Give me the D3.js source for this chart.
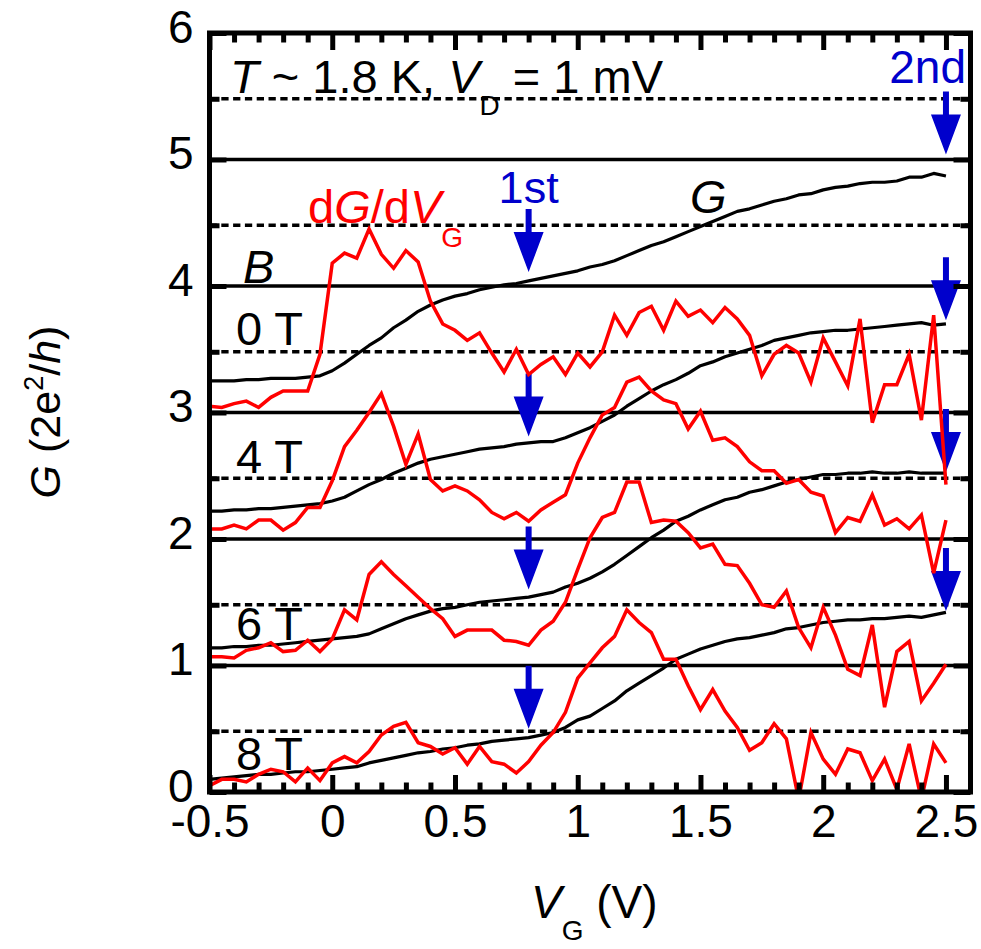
<!DOCTYPE html>
<html>
<head>
<meta charset="utf-8">
<script src="https://cdn.jsdelivr.net/npm/d3@7"></script>
<style>
  body { margin: 0; background: #fff; }
  svg text { font-family: "Liberation Sans", Arial, Helvetica, sans-serif; }
</style>
</head>
<body>
<div id="chart-area"></div>
<script>
// gate voltage grid (V)
const vg = [
  -0.5,-0.45,-0.4,-0.35,-0.3,-0.25,-0.2,-0.15,-0.1,-0.05,
  0,0.05,0.1,0.15,0.2,0.25,0.3,0.35,0.4,0.45,
  0.5,0.55,0.6,0.65,0.7,0.75,0.8,0.85,0.9,0.95,
  1,1.05,1.1,1.15,1.2,1.25,1.3,1.35,1.4,1.45,
  1.5,1.55,1.6,1.65,1.7,1.75,1.8,1.85,1.9,1.95,
  2,2.05,2.1,2.15,2.2,2.25,2.3,2.35,2.4,2.45,
  2.5]

// G (black), offset curves
const g0T = [
  3.25,3.25,3.25,3.26,3.26,3.27,3.27,3.27,3.28,3.29,
  3.33,3.39,3.46,3.53,3.59,3.67,3.73,3.80,3.85,3.89,
  3.92,3.94,3.97,3.99,4.01,4.02,4.04,4.06,4.08,4.10,
  4.12,4.15,4.17,4.20,4.24,4.28,4.32,4.35,4.39,4.43,
  4.47,4.51,4.55,4.59,4.61,4.64,4.67,4.69,4.72,4.73,
  4.76,4.78,4.79,4.81,4.82,4.82,4.83,4.86,4.86,4.89,
  4.87]
const g4T = [
  2.22,2.22,2.23,2.23,2.24,2.24,2.25,2.26,2.27,2.28,
  2.30,2.33,2.38,2.43,2.47,2.52,2.56,2.60,2.63,2.65,
  2.67,2.69,2.71,2.72,2.73,2.75,2.76,2.77,2.77,2.80,
  2.84,2.88,2.93,2.98,3.05,3.11,3.17,3.22,3.26,3.31,
  3.37,3.40,3.44,3.47,3.50,3.53,3.57,3.59,3.61,3.63,
  3.64,3.65,3.65,3.66,3.67,3.68,3.69,3.70,3.71,3.69,
  3.70]
const g6T = [
  1.14,1.14,1.15,1.15,1.16,1.16,1.17,1.18,1.19,1.20,
  1.21,1.22,1.23,1.25,1.29,1.33,1.37,1.40,1.43,1.45,
  1.46,1.48,1.50,1.51,1.52,1.53,1.54,1.56,1.58,1.62,
  1.65,1.69,1.74,1.80,1.87,1.94,2.01,2.07,2.14,2.18,
  2.23,2.27,2.31,2.33,2.37,2.39,2.42,2.45,2.47,2.49,
  2.51,2.51,2.52,2.52,2.53,2.52,2.52,2.53,2.52,2.52,
  2.52]
const g8T = [
  0.10,0.11,0.12,0.13,0.14,0.14,0.15,0.16,0.16,0.17,
  0.18,0.19,0.20,0.23,0.25,0.27,0.29,0.31,0.32,0.34,
  0.35,0.37,0.38,0.40,0.41,0.42,0.43,0.45,0.47,0.51,
  0.57,0.60,0.66,0.72,0.80,0.86,0.92,0.98,1.05,1.09,
  1.13,1.16,1.19,1.21,1.22,1.24,1.26,1.29,1.30,1.32,
  1.34,1.35,1.36,1.36,1.37,1.37,1.38,1.39,1.38,1.40,
  1.42]

// dG/dVG (red), offset curves
const dg0T = [
  3.05,3.04,3.07,3.09,3.04,3.12,3.17,3.17,3.17,3.46,
  4.18,4.26,4.22,4.45,4.25,4.14,4.28,4.19,3.88,3.70,
  3.65,3.57,3.63,3.47,3.32,3.50,3.30,3.38,3.44,3.30,
  3.47,3.36,3.48,3.77,3.61,3.79,3.84,3.65,3.88,3.76,
  3.81,3.71,3.83,3.74,3.61,3.29,3.46,3.53,3.47,3.24,
  3.59,3.40,3.21,3.74,2.92,3.22,3.22,3.46,2.94,3.77,
  2.43]
const dg4T = [
  2.08,2.08,2.11,2.08,2.15,2.15,2.07,2.13,2.25,2.25,
  2.46,2.73,2.86,3.00,3.15,2.89,2.59,2.83,2.47,2.38,
  2.42,2.38,2.31,2.21,2.16,2.21,2.14,2.23,2.29,2.35,
  2.60,2.80,2.98,3.04,3.24,3.28,3.17,3.10,3.07,2.87,
  3.01,2.78,2.80,2.73,2.61,2.54,2.54,2.44,2.47,2.37,
  2.34,2.05,2.17,2.14,2.35,2.11,2.16,2.08,2.19,1.73,
  2.15]
const dg6T = [
  1.07,1.07,1.06,1.12,1.14,1.18,1.11,1.12,1.20,1.11,
  1.21,1.44,1.36,1.72,1.82,1.72,1.63,1.54,1.45,1.37,
  1.23,1.28,1.28,1.28,1.20,1.19,1.16,1.28,1.35,1.50,
  1.76,2.01,2.17,2.21,2.45,2.45,2.13,2.15,2.14,2.05,
  1.93,1.96,1.80,1.79,1.65,1.48,1.46,1.59,1.30,1.14,
  1.46,1.24,0.97,0.92,1.32,0.67,1.11,1.19,0.72,0.86,
  1.01]
const dg8T = [
  0.05,0.10,0.10,0.08,0.14,0.18,0.16,0.08,0.19,0.09,
  0.23,0.28,0.23,0.32,0.45,0.52,0.55,0.39,0.36,0.30,
  0.35,0.22,0.36,0.24,0.22,0.15,0.24,0.37,0.47,0.63,
  0.90,1.02,1.14,1.23,1.44,1.34,1.26,1.05,1.05,0.84,
  0.65,0.81,0.64,0.51,0.33,0.39,0.54,0.42,-0.06,0.47,
  0.26,0.14,0.34,0.31,0.09,0.26,0.02,0.38,-0.06,0.38,
  0.23]

// field labels and arrow tips (1st at 0.8 V, 2nd at 2.5 V)
const fieldLabels = ["0 T", "4 T", "6 T", "8 T"]
const arrowV = [0.8, 2.5]
const arrow1Tip = [4.11, 2.81, 1.60, 0.50]
const arrow2Tip = [5.04, 3.73, 2.53, 1.43]

// reference lines
const solidLevels = [1, 2, 3, 4, 5]
const dashedLevels = [0.48, 1.48, 2.48, 3.48, 4.48, 5.48]

// ticks
const xMajor = [-0.5, 0, 0.5, 1, 1.5, 2, 2.5]
const xTickLabels = ["-0.5", "0", "0.5", "1", "1.5", "2", "2.5"]
const yMajor = [0, 1, 2, 3, 4, 5, 6]
const yTickLabels = ["0", "1", "2", "3", "4", "5", "6"]

const blue = "#0000cc"
const red = "#ff0000"
const fs = 46   // tick labels
const ts = 47   // annotations

const svg = d3.select("#chart-area").append("svg")
  .attr("width", 981)
  .attr("height", 949)

const x = d3.scaleLinear().domain([-0.5, 2.6]).range([209.5, 970.5])
const y = d3.scaleLinear().domain([0, 6]).range([792, 33])

// clip for the plot box
svg.append("clipPath").attr("id", "box")
  .append("rect")
  .attr("x", x(-0.5)).attr("y", y(6))
  .attr("width", x(2.6) - x(-0.5)).attr("height", y(0) - y(6))

const plot = svg.append("g").attr("clip-path", "url(#box)")

// horizontal reference lines
plot.selectAll(".solid").data(solidLevels).enter().append("line")
  .attr("x1", x(-0.5)).attr("x2", x(2.6))
  .attr("y1", d => y(d)).attr("y2", d => y(d))
  .attr("stroke", "#000").attr("stroke-width", 3.6)

plot.selectAll(".dashed").data(dashedLevels).enter().append("line")
  .attr("x1", x(-0.5)).attr("x2", x(2.6))
  .attr("y1", d => y(d)).attr("y2", d => y(d))
  .attr("stroke", "#000").attr("stroke-width", 3.6)
  .attr("stroke-dasharray", "7.3,4.5")

// arrows
function arrowPath(px, py) {
  const L = 63, H = 40, hw = 15, sw = 3
  return `M${px - sw},${py - L}H${px + sw}V${py - H}H${px + hw}L${px},${py}L${px - hw},${py - H}H${px - sw}Z`
}
const tips = [arrow1Tip, arrow2Tip]
tips.forEach((list, j) => {
  plot.selectAll(".arr" + j).data(list).enter().append("path")
    .attr("d", d => arrowPath(x(arrowV[j]), y(d)))
    .attr("fill", blue)
})

// curves
const line = d3.line()
  .x((d, i) => x(vg[i]))
  .y(d => y(d))

const gSeries = [g0T, g4T, g6T, g8T]
const dgSeries = [dg0T, dg4T, dg6T, dg8T]

plot.selectAll(".g").data(gSeries).enter().append("path")
  .attr("d", line)
  .attr("fill", "none").attr("stroke", "#000").attr("stroke-width", 3.2)
  .attr("stroke-linejoin", "round")

plot.selectAll(".dg").data(dgSeries).enter().append("path")
  .attr("d", line)
  .attr("fill", "none").attr("stroke", red).attr("stroke-width", 3.5)

// axes (inward ticks on all four sides)
function styleAxis(g) {
  g.select(".domain").remove()
  g.selectAll(".tick line").attr("stroke", "#000").attr("stroke-width", 5)
  g.attr("font-family", null).attr("font-size", fs)
  g.selectAll("text").attr("fill", "#000")
}
const xMinor = d3.range(-0.5, 2.55, 0.1).filter(v => Math.abs(v * 2 - Math.round(v * 2)) > 0.01)

svg.append("g").attr("transform", `translate(0,${y(0)})`)
  .call(d3.axisBottom(x).tickValues(xMajor).tickFormat((d, i) => xTickLabels[i])
    .tickSizeInner(-17).tickSizeOuter(0).tickPadding(12))
  .call(styleAxis)
svg.append("g").attr("transform", `translate(0,${y(0)})`)
  .call(d3.axisBottom(x).tickValues(xMinor).tickFormat("").tickSize(-9.5))
  .call(styleAxis)
svg.append("g").attr("transform", `translate(0,${y(6)})`)
  .call(d3.axisTop(x).tickValues(xMajor).tickFormat("").tickSize(-17))
  .call(styleAxis)
svg.append("g").attr("transform", `translate(0,${y(6)})`)
  .call(d3.axisTop(x).tickValues(xMinor).tickFormat("").tickSize(-9.5))
  .call(styleAxis)

const yLeft = svg.append("g").attr("transform", `translate(${x(-0.5)},0)`)
  .call(d3.axisLeft(y).tickValues(yMajor).tickFormat((d, i) => yTickLabels[i])
    .tickSizeInner(-17).tickSizeOuter(0).tickPadding(16))
  .call(styleAxis)
yLeft.selectAll("text").attr("dy", "0.2em")
svg.append("g").attr("transform", `translate(${x(-0.5)},0)`)
  .call(d3.axisLeft(y).tickValues(dashedLevels).tickFormat("").tickSize(-10))
  .call(styleAxis)
svg.append("g").attr("transform", `translate(${x(2.6)},0)`)
  .call(d3.axisRight(y).tickValues(yMajor).tickFormat("").tickSize(-17))
  .call(styleAxis)
svg.append("g").attr("transform", `translate(${x(2.6)},0)`)
  .call(d3.axisRight(y).tickValues(dashedLevels).tickFormat("").tickSize(-10))
  .call(styleAxis)

// frame
svg.append("rect")
  .attr("x", x(-0.5)).attr("y", y(6))
  .attr("width", x(2.6) - x(-0.5)).attr("height", y(0) - y(6))
  .attr("fill", "none").attr("stroke", "#000").attr("stroke-width", 5)

// axis titles
const xt = svg.append("text").attr("x", 531).attr("y", 918).attr("font-size", 46)
xt.append("tspan").attr("font-style", "italic").text("V")
xt.append("tspan").attr("font-size", 28).attr("dy", 22).text("G")
xt.append("tspan").attr("dy", -22).text(" (V)")

const yt = svg.append("text")
  .attr("transform", "translate(60,412) rotate(-90)")
  .attr("text-anchor", "middle").attr("font-size", 43)
yt.append("tspan").attr("font-style", "italic").text("G")
yt.append("tspan").text(" (2e")
yt.append("tspan").attr("font-size", 27).attr("dy", -17).text("2")
yt.append("tspan").attr("dy", 17).text("/")
yt.append("tspan").attr("font-style", "italic").text("h")
yt.append("tspan").text(")")

// condition label
const cond = svg.append("text").attr("x", 230).attr("y", 93).attr("font-size", ts)
cond.append("tspan").attr("font-style", "italic").text("T")
cond.append("tspan").text(" ~ 1.8 K, ")
cond.append("tspan").attr("font-style", "italic").text("V")
cond.append("tspan").attr("font-size", 28).attr("dy", 22).text("D")
cond.append("tspan").attr("dy", -22).text(" = 1 mV")

// curve labels
const dl = svg.append("text").attr("x", 308).attr("y", 223).attr("font-size", ts).attr("fill", red)
dl.append("tspan").text("d")
dl.append("tspan").attr("font-style", "italic").text("G")
dl.append("tspan").text("/d")
dl.append("tspan").attr("font-style", "italic").text("V")
dl.append("tspan").attr("font-size", 28).attr("dy", 24).text("G")

svg.append("text").attr("x", 690).attr("y", 213).attr("font-size", ts)
  .attr("font-style", "italic").text("G")
svg.append("text").attr("x", 243).attr("y", 283).attr("font-size", ts)
  .attr("font-style", "italic").text("B")

const labelY = [3.53, 2.52, 1.20, 0.17]
svg.selectAll(".field").data(fieldLabels).enter().append("text")
  .attr("x", 236).attr("y", (d, i) => y(labelY[i]))
  .attr("font-size", ts).text(d => d)

svg.append("text").attr("x", x(0.8)).attr("y", 203).attr("text-anchor", "middle")
  .attr("font-size", 45).attr("fill", blue).text("1st")
svg.append("text").attr("x", 966).attr("y", 83).attr("text-anchor", "end")
  .attr("font-size", 46).attr("fill", blue).text("2nd")
</script>
</body>
</html>
